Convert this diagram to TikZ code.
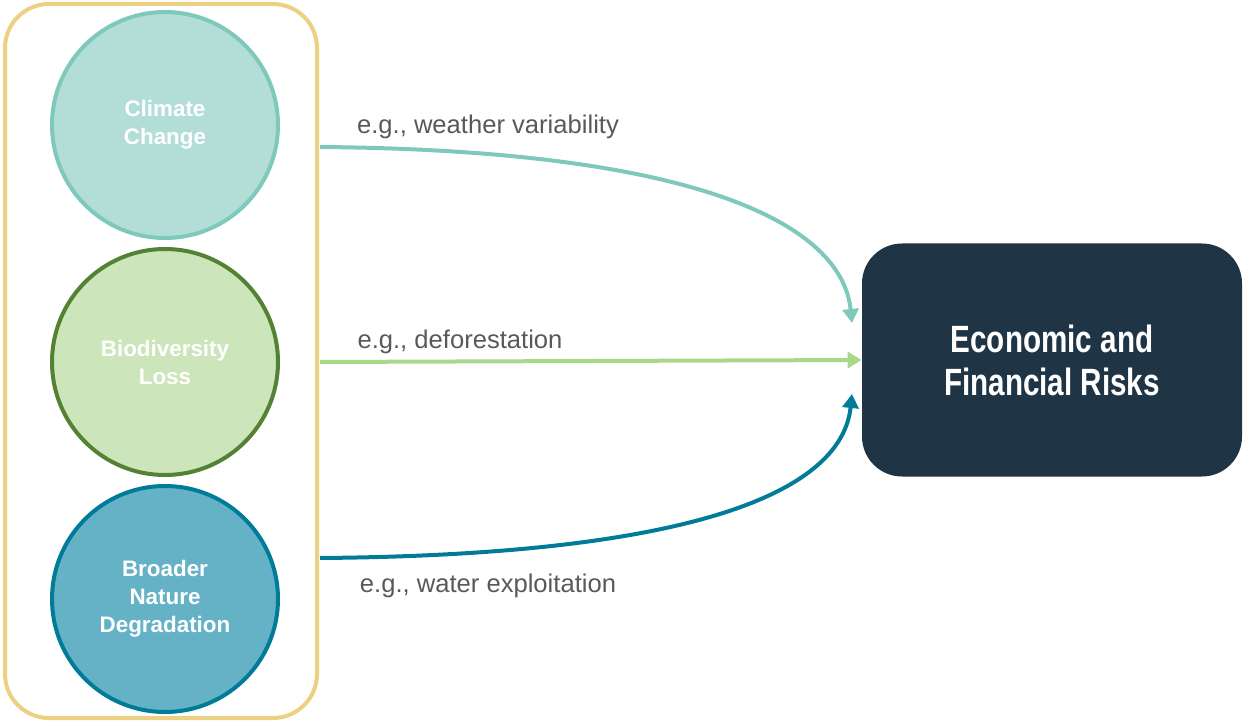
\documentclass[tikz,border=0pt]{standalone}
\usepackage{fontspec}
\setmainfont{Liberation Sans}
\newfontfamily\narrowfont{Liberation Sans}[FakeStretch=0.78]
\usepackage{xcolor}
\definecolor{ColFrame}{RGB}{237,208,129}
\definecolor{ColClimFill}{RGB}{179,222,216}
\definecolor{ColClimLine}{RGB}{126,200,188}
\definecolor{ColBioFill}{RGB}{205,229,186}
\definecolor{ColBioLine}{RGB}{84,130,53}
\definecolor{ColNatFill}{RGB}{101,178,198}
\definecolor{ColNatLine}{RGB}{0,124,152}
\definecolor{ColRisk}{RGB}{31,52,68}
\definecolor{ColBioArrow}{RGB}{169,216,138}
\definecolor{ColText}{RGB}{89,89,89}
\usepackage{tikz}
\usetikzlibrary{arrows.meta}
\tikzstyle{Frame}=[draw=ColFrame,line width=2pt,rounded corners=22pt,
minimum width=156pt,minimum height=357pt]
\tikzstyle{Driver}=[circle,line width=2pt,minimum size=113pt,inner sep=0pt,
align=center,text=white,font=\bfseries\fontsize{11.2}{14}\selectfont,
execute at begin node=\rule{0pt}{11pt}]
\tikzstyle{Risk}=[fill=ColRisk,rounded corners=20pt,minimum width=190pt,
minimum height=116.5pt,align=center,text=white,
font=\narrowfont\bfseries\fontsize{19}{21.5}\selectfont]
\tikzstyle{Link}=[line width=2pt,-{Triangle[length=7pt,width=8pt]}]
\tikzstyle{LinkLabel}=[text=ColText,font=\fontsize{12.8}{15}\selectfont]

\begin{document}
\begin{tikzpicture}[x=0.5pt,y=-0.5pt]
        \useasboundingbox (0,0) rectangle (1244,722);
        \node[Frame](frame)at(161,361){};
        \node[Driver,fill=ColClimFill,draw=ColClimLine](clim)at(165,125){Climate\\Change};
        \node[Driver,fill=ColBioFill,draw=ColBioLine](bio)at(165,362){Biodiversity\\Loss};
        \node[Driver,fill=ColNatFill,draw=ColNatLine](nat)at(165,599){Broader\\Nature\\Degradation};
        \node[Risk](risk)at(1052,360){Economic and\\Financial Risks};
        \coordinate(s1)at(320,147);
        \coordinate(s2)at(320,362);
        \coordinate(s3)at(320,558);
        \coordinate(t1)at(852,323);
        \coordinate(t3)at(852,394);
        \draw[Link,ColClimLine](s1)..controls(700,150)and(842,225)..(t1);
        \draw[Link,ColBioArrow](s2)--(risk.west);
        \draw[Link,ColNatLine](s3)..controls(700,555)and(842,490)..(t3);
        \node[LinkLabel](l1)at(488,127){e.g., weather variability};
        \node[LinkLabel](l2)at(460,342){e.g., deforestation};
        \node[LinkLabel](l3)at(488,586){e.g., water exploitation};
    \end{tikzpicture}
\end{document}
